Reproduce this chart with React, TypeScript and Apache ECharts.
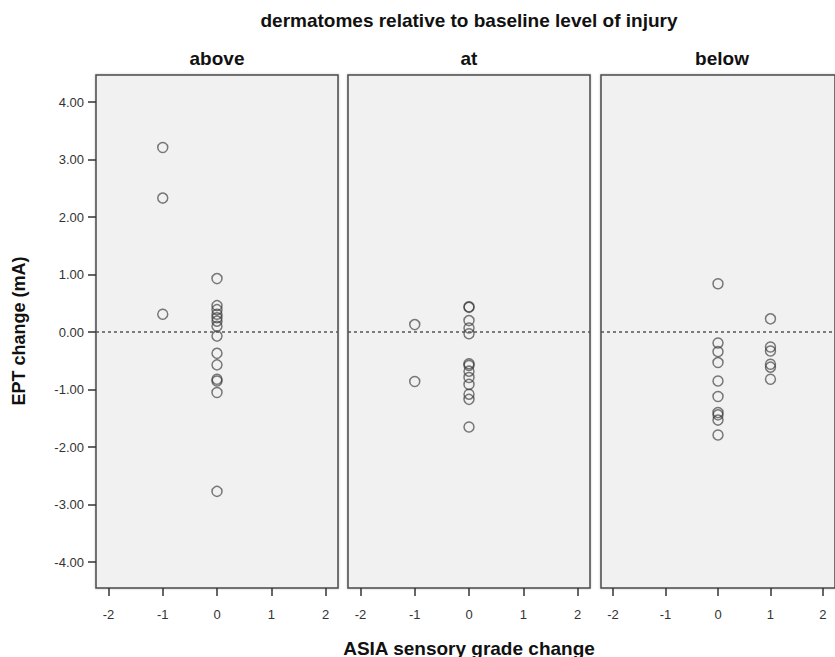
import React, { useEffect, useRef } from "react";
import * as echarts from "echarts";

const panelNames = ["above", "at", "below"];
const xTickValues = [-2, -1, 0, 1, 2];
const yTickValues = [-4, -3, -2, -1, 0, 1, 2, 3, 4];

// [ASIA sensory grade change, EPT change (mA)]
const aboveData = [
  [-1, 3.21], [-1, 2.33], [-1, 0.31],
  [0, 0.93], [0, 0.46], [0, 0.39], [0, 0.31], [0, 0.25], [0, 0.19], [0, 0.1],
  [0, -0.07], [0, -0.37], [0, -0.57], [0, -0.82], [0, -0.85], [0, -1.05], [0, -2.77],
];
const atData = [
  [-1, 0.13], [-1, -0.86],
  [0, 0.44], [0, 0.43], [0, 0.2], [0, 0.07], [0, -0.03],
  [0, -0.55], [0, -0.58], [0, -0.68], [0, -0.79], [0, -0.91], [0, -1.08], [0, -1.17], [0, -1.65],
];
const belowData = [
  [0, 0.84], [0, -0.19], [0, -0.34], [0, -0.53], [0, -0.85], [0, -1.12],
  [0, -1.4], [0, -1.44], [0, -1.53], [0, -1.79],
  [1, 0.23], [1, -0.26], [1, -0.33], [1, -0.56], [1, -0.61], [1, -0.82],
];

const panelData = [aboveData, atData, belowData];

const FONT = "Liberation Sans, Arial, sans-serif";

export default function App() {
  const ref = useRef<HTMLDivElement>(null);
  useEffect(() => {
    if (!ref.current) return;
    const chart = echarts.init(ref.current, undefined, { renderer: "svg" });
    const lefts = [96, 348, 601];
    const top = 75;
    const width = 242;
    const height = 513;
    const centers = lefts.map((l) => l + width / 2);

    const grids = lefts.map((l) => ({
      left: l,
      top,
      width,
      height,
      show: true,
      backgroundColor: "#f1f1f1",
      borderColor: "#4a4a4a",
      borderWidth: 1.5,
      shadowColor: "rgba(0,0,0,0.25)",
      shadowBlur: 2,
    }));

    const xAxes = lefts.map((_, i) => ({
      type: "value",
      gridIndex: i,
      min: -2.23,
      max: 2.23,
      axisLine: { show: false, onZero: false },
      splitLine: { show: false },
      axisTick: {
        show: true,
        length: 8,
        customValues: xTickValues,
        lineStyle: { color: "#333", width: 1.5 },
      },
      axisLabel: {
        show: true,
        margin: 20,
        customValues: xTickValues,
        color: "#333",
        fontSize: 13,
        fontFamily: FONT,
      },
    }));

    const yAxes = lefts.map((_, i) => ({
      type: "value",
      gridIndex: i,
      min: -4.45,
      max: 4.47,
      axisLine: { show: false, onZero: false },
      splitLine: { show: false },
      axisTick: {
        show: i === 0,
        length: 8,
        customValues: yTickValues,
        lineStyle: { color: "#333", width: 1.5 },
      },
      axisLabel: {
        show: i === 0,
        margin: 12,
        customValues: yTickValues,
        color: "#333",
        fontSize: 13,
        fontFamily: FONT,
        formatter: (v: number) => v.toFixed(2),
      },
    }));

    const series = panelData.map((d, i) => ({
      type: "scatter",
      xAxisIndex: i,
      yAxisIndex: i,
      data: d,
      symbol: "circle",
      symbolSize: 10,
      itemStyle: {
        color: "rgba(0,0,0,0)",
        borderColor: "rgba(50,50,50,0.8)",
        borderWidth: 1.5,
      },
      markLine: {
        silent: true,
        symbol: ["none", "none"],
        label: { show: false },
        lineStyle: { color: "#555", width: 1.5, type: [3, 3] },
        data: [{ yAxis: 0 }],
      },
      z: 3,
    }));

    const textStyle = (text: string, size: number) => ({
      text,
      fontSize: size,
      fontWeight: "bold",
      fontFamily: FONT,
      fill: "#111",
      textAlign: "center",
      textVerticalAlign: "middle",
    });

    const graphic: any[] = [
      {
        type: "text",
        x: centers[1],
        y: 20,
        style: textStyle("dermatomes relative to baseline level of injury", 19),
      },
      ...panelNames.map((n, i) => ({
        type: "text",
        x: centers[i],
        y: 58,
        style: textStyle(n, 19),
      })),
      {
        type: "text",
        x: 19,
        y: 331,
        rotation: Math.PI / 2,
        style: textStyle("EPT change (mA)", 18),
      },
      {
        type: "text",
        x: centers[1],
        y: 648,
        style: textStyle("ASIA sensory grade change", 19),
      },
    ];

    chart.setOption({
      animation: false,
      backgroundColor: "#ffffff",
      grid: grids,
      xAxis: xAxes,
      yAxis: yAxes,
      series,
      graphic,
    });
    return () => chart.dispose();
  }, []);
  return (
    <div
      ref={ref}
      style={{ position: "fixed", left: 0, top: 0, width: 835, height: 657 }}
    />
  );
}
